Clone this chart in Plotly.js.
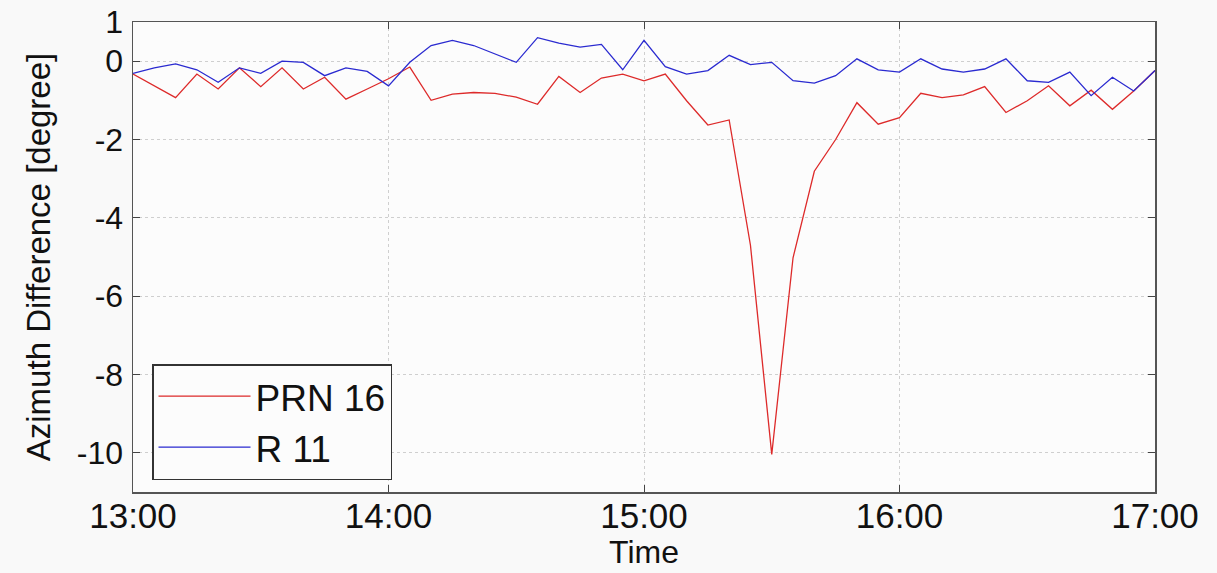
<!DOCTYPE html>
<html>
<head>
<meta charset="utf-8">
<script src="https://cdn.plot.ly/plotly-3.0.1.min.js"></script>
<style>
html,body{margin:0;padding:0;background:#f9f9f9;}
#chart{width:1217px;height:573px;}
</style>
</head>
<body>
<div id="chart"></div>
<script>
// Time stamps (every 5 minutes, 13:00 - 17:00)
var times = ["13:00","13:05","13:10","13:15","13:20","13:25","13:30","13:35","13:40","13:45","13:50","13:55",
             "14:00","14:05","14:10","14:15","14:20","14:25","14:30","14:35","14:40","14:45","14:50","14:55",
             "15:00","15:05","15:10","15:15","15:20","15:25","15:30","15:35","15:40","15:45","15:50","15:55",
             "16:00","16:05","16:10","16:15","16:20","16:25","16:30","16:35","16:40","16:45","16:50","16:55",
             "17:00"];

// Azimuth difference [degree], PRN 16
var prn16 = [-0.33,-0.63,-0.93,-0.33,-0.71,-0.17,-0.65,-0.17,-0.71,-0.41,-0.97,-0.71,
             -0.45,-0.15,-1.00,-0.84,-0.80,-0.82,-0.92,-1.10,-0.39,-0.80,-0.43,-0.33,
             -0.50,-0.33,-1.01,-1.63,-1.50,-4.70,-10.04,-5.02,-2.81,-2.00,-1.06,-1.61,
             -1.44,-0.82,-0.93,-0.86,-0.65,-1.31,-1.01,-0.63,-1.14,-0.74,-1.23,-0.76,
             -0.24];

// Azimuth difference [degree], R 11
var r11 = [-0.31,-0.17,-0.07,-0.22,-0.54,-0.17,-0.31,0.00,-0.03,-0.37,-0.17,-0.26,
           -0.63,-0.03,0.40,0.53,0.40,0.19,-0.03,0.60,0.46,0.36,0.43,-0.22,
           0.53,-0.14,-0.33,-0.24,0.15,-0.09,-0.03,-0.50,-0.56,-0.37,0.06,-0.22,
           -0.28,0.06,-0.20,-0.28,-0.20,0.06,-0.50,-0.54,-0.28,-0.88,-0.41,-0.76,
           -0.24];

var seriesNames = ["PRN 16", "R 11"];
var xTickLabels = ["13:00","14:00","15:00","16:00","17:00"];
var yTickVals = [-10,-8,-6,-4,-2,0,1];

var xDates = times.map(function(t){ return "2000-01-01 " + t; });
var xTickVals = xTickLabels.map(function(t){ return "2000-01-01 " + t; });

var font = "Liberation Sans, Arial, Helvetica, sans-serif";

var traces = [
  {x: xDates, y: prn16, type: "scatter", mode: "lines", name: seriesNames[0],
   line: {color: "#dd2a2a", width: 1.3}},
  {x: xDates, y: r11, type: "scatter", mode: "lines", name: seriesNames[1],
   line: {color: "#2a2ad0", width: 1.3}}
];

var layout = {
  width: 1217, height: 573,
  margin: {l: 133, r: 62, t: 22, b: 81, pad: 0},
  paper_bgcolor: "#f9f9f9",
  plot_bgcolor: "#fcfcfc",
  font: {family: font, color: "#111"},
  showlegend: true,
  legend: {
    x: 0.0186, y: 0.0255, xanchor: "left", yanchor: "bottom",
    bgcolor: "#fcfcfc", bordercolor: "#333", borderwidth: 1.5,
    font: {family: font, size: 37, color: "#111"},
    itemwidth: 92, tracegroupgap: 0
  },
  xaxis: {
    type: "date",
    range: [xTickVals[0], xTickVals[xTickVals.length-1]],
    tickvals: xTickVals, ticktext: xTickLabels,
    tickfont: {family: font, size: 35, color: "#111"},
    ticks: "inside", ticklen: 7, tickcolor: "#444", tickwidth: 1,
    showline: true, linecolor: "#555", linewidth: 1.5, mirror: "ticks",
    showgrid: true, gridcolor: "#cfcfcf", griddash: "dot", gridwidth: 1,
    zeroline: false, ticklabelstandoff: -8,
    title: {text: "Time", font: {family: font, size: 32, color: "#111"}, standoff: 7}
  },
  yaxis: {
    range: [-11, 1],
    tickvals: yTickVals, ticktext: yTickVals.map(String),
    tickfont: {family: font, size: 32, color: "#111"},
    ticks: "inside", ticklen: 7, tickcolor: "#444", tickwidth: 1,
    showline: true, linecolor: "#555", linewidth: 1.5, mirror: "ticks",
    showgrid: true, gridcolor: "#cfcfcf", griddash: "dot", gridwidth: 1,
    zeroline: false, ticklabelstandoff: 2,
    title: {text: "Azimuth Difference [degree]", font: {family: font, size: 33, color: "#111"}, standoff: 16}
  }
};

Plotly.newPlot("chart", traces, layout, {displayModeBar: false, staticPlot: true});
</script>
</body>
</html>
